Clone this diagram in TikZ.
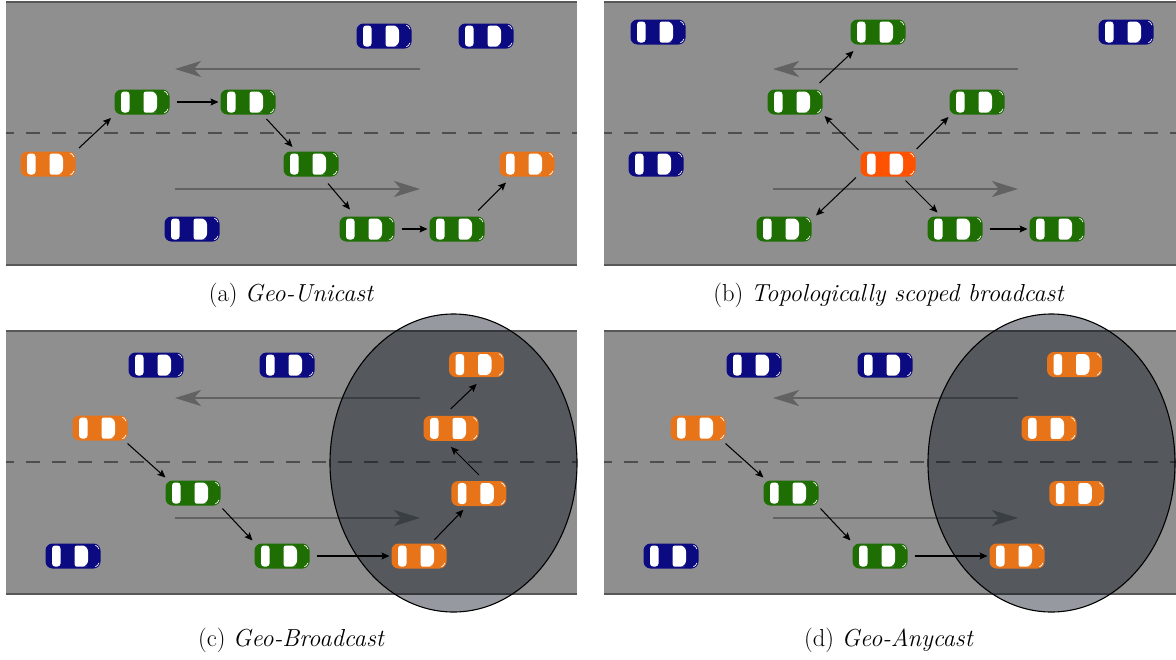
\documentclass[tikz,border=0pt]{standalone}
\usetikzlibrary{arrows.meta,calc}

\definecolor{road}{RGB}{143,143,143}
\definecolor{kerb}{RGB}{88,88,88}
\definecolor{lanemark}{RGB}{78,78,78}
\definecolor{flow}{RGB}{98,98,98}
\definecolor{carorange}{RGB}{232,116,26}
\definecolor{carred}{RGB}{255,82,0}
\definecolor{cargreen}{RGB}{30,110,4}
\definecolor{carblue}{RGB}{12,10,128}
\definecolor{areashade}{RGB}{5,15,28}

% windows and headlights of a car facing +x, in local pt units (y up)
\newcommand\carwindows{%
  \fill[white, rounded corners=3pt] (-21,-10.5) rectangle (-12.5,10.5);
  \fill[white, rounded corners=2.5pt] (1.5,0) -- (1.5,10.5) -- (8,10.5)
    [rounded corners=6pt] -- (15,10.5) -- (15,-10.5) -- (8,-10.5)
    [rounded corners=2.5pt] -- (1.5,-10.5) -- cycle;
  \draw[white, line width=0.7pt] (20.5,5.5) ++(15:5.6) arc[start angle=15, end angle=70, radius=5.6];
  \draw[white, line width=0.7pt] (20.5,-5.5) ++(-15:5.6) arc[start angle=-15, end angle=-70, radius=5.6];
}
\newcommand\carart[1]{%
  \begin{scope}[shift={(path picture bounding box.center)}, x=1pt, y=1pt, xscale=#1]
    \carwindows
  \end{scope}}

% one road segment with its kerbs, centre line and traffic direction arrows
\newcommand\roadpanel[3]{%
  \fill[road] (#1,#2) rectangle ++(#3,263);
  \draw[kerb, line width=2pt] (#1,#2) -- ++(#3,0);
  \draw[kerb, line width=2pt] (#1,#2+263) -- ++(#3,0);
  \draw[lanemark, line width=1.6pt, dash pattern=on 14pt off 12pt, dash phase=6pt] (#1,#2+131) -- ++(#3,0);
  \draw[flowarrow] (#1+414,#2+67) -- (#1+169,#2+67);
  \draw[flowarrow] (#1+169,#2+187) -- (#1+414,#2+187);
}

% diagonal hop centred between two cars
\newcommand\hop[4]{\draw[msg] ($(#1)!0.5!(#2)-(#3,#4)$) -- ($(#1)!0.5!(#2)+(#3,#4)$);}
% straight hop between two cars in the same lane
\newcommand\lanehop[2]{\draw[msg, shorten <=7pt, shorten >=2pt] (#1.east) -- (#2.west);}

\tikzset{
  carbody/.style={draw=none, fill=#1, rounded corners=7pt, minimum width=55pt,
    minimum height=25pt, inner sep=0pt, outer sep=0pt},
  car/.style={carbody=#1, path picture={\carart{1}}},
  carL/.style={carbody=#1, path picture={\carart{-1}}},
  msg/.style={black, line width=1.05pt, -{Stealth[length=8pt, width=7pt, inset=1.5pt]}},
  flowarrow/.style={flow, line width=2.2pt, -{Stealth[length=26pt, width=16pt, inset=7pt]}},
  area/.style={draw=black, line width=1.1pt, fill=areashade, fill opacity=0.42},
  caption/.style={font=\fontsize{24.6}{29}\selectfont, inner sep=0pt},
}

\begin{document}
\begin{tikzpicture}[x=1pt, y=-1pt]
\useasboundingbox (0,0) rectangle (1176,659);

% roads
\roadpanel{6}{2}{571}
\roadpanel{604}{2}{572}
\roadpanel{6}{331}{571}
\roadpanel{604}{331}{572}

% destination areas
\draw[area] (453.5,463) ellipse [x radius=123.5, y radius=149];
\draw[area] (1051.5,463) ellipse [x radius=123.5, y radius=149];

% ---- (a) Geo-Unicast
\node[carL=carblue] (aB1) at (384,36) {};
\node[carL=carblue] (aB2) at (486,36) {};
\node[carL=carblue] (aB3) at (192,229) {};
\node[car=carorange] (aS) at (48,164) {};
\node[car=cargreen] (aG1) at (142,102) {};
\node[car=cargreen] (aG2) at (248,102) {};
\node[car=cargreen] (aG3) at (311,164) {};
\node[car=cargreen] (aG4) at (367,229) {};
\node[car=cargreen] (aG5) at (457,229) {};
\node[car=carorange] (aD) at (527,164) {};
\hop{aS}{aG1}{16}{-15}
\lanehop{aG1}{aG2}
\hop{aG2}{aG3}{13}{14}
\hop{aG3}{aG4}{11}{13}
\lanehop{aG4}{aG5}
\hop{aG5}{aD}{14}{-14}

% ---- (b) Topologically scoped broadcast
\node[carL=carblue] (bB1) at (658,32) {};
\node[carL=carblue] (bB2) at (1126,32) {};
\node[carL=carblue] (bB3) at (656,164) {};
\node[car=cargreen] (bG1) at (878,32) {};
\node[car=cargreen] (bG2) at (795,102) {};
\node[car=cargreen] (bG3) at (977,102) {};
\node[car=carred] (bS) at (888,164) {};
\node[car=cargreen] (bG4) at (784,229) {};
\node[car=cargreen] (bG5) at (955,229) {};
\node[car=cargreen] (bG6) at (1057,229) {};
\hop{bS}{bG2}{-17}{-17}
\hop{bS}{bG3}{16}{-16}
\hop{bS}{bG4}{-20}{19}
\hop{bS}{bG5}{16}{16}
\hop{bG2}{bG1}{17}{-16}
\lanehop{bG5}{bG6}

% ---- (c) Geo-Broadcast
\node[carL=carblue] (cB1) at (156,365) {};
\node[carL=carblue] (cB2) at (287,365) {};
\node[carL=carblue] (cB3) at (73,556) {};
\node[car=carorange] (cS) at (100,428) {};
\node[car=cargreen] (cG1) at (193,493) {};
\node[car=cargreen] (cG2) at (282,556) {};
\node[car=carorange] (cD1) at (476.5,364.5) {};
\node[car=carorange] (cD2) at (451,428.3) {};
\node[car=carorange] (cD3) at (478.8,493.5) {};
\node[car=carorange] (cD4) at (419,556) {};
\hop{cS}{cG1}{19}{17}
\hop{cG1}{cG2}{15}{16}
\lanehop{cG2}{cD4}
\hop{cD4}{cD3}{14.5}{-15}
\hop{cD3}{cD2}{-14}{-14}
\hop{cD2}{cD1}{13}{-12.5}

% ---- (d) Geo-Anycast
\node[carL=carblue] (dB1) at (754,365) {};
\node[carL=carblue] (dB2) at (885,365) {};
\node[carL=carblue] (dB3) at (671,556) {};
\node[car=carorange] (dS) at (698,428) {};
\node[car=cargreen] (dG1) at (791,493) {};
\node[car=cargreen] (dG2) at (880,556) {};
\node[car=carorange] (dD1) at (1074.5,364.5) {};
\node[car=carorange] (dD2) at (1049,428.3) {};
\node[car=carorange] (dD3) at (1076.8,493.5) {};
\node[car=carorange] (dD4) at (1017,556) {};
\hop{dS}{dG1}{19}{17}
\hop{dG1}{dG2}{15}{16}
\lanehop{dG2}{dD4}

% captions
\node[caption] (capA) at (291.5,295) {(a)\ \textit{Geo-Unicast}};
\node[caption] (capB) at (889,295) {(b)\ \textit{Topologically scoped broadcast}};
\node[caption] (capC) at (291.5,640) {(c)\ \textit{Geo-Broadcast}};
\node[caption] (capD) at (889,640) {(d)\ \textit{Geo-Anycast}};
\end{tikzpicture}
\end{document}
